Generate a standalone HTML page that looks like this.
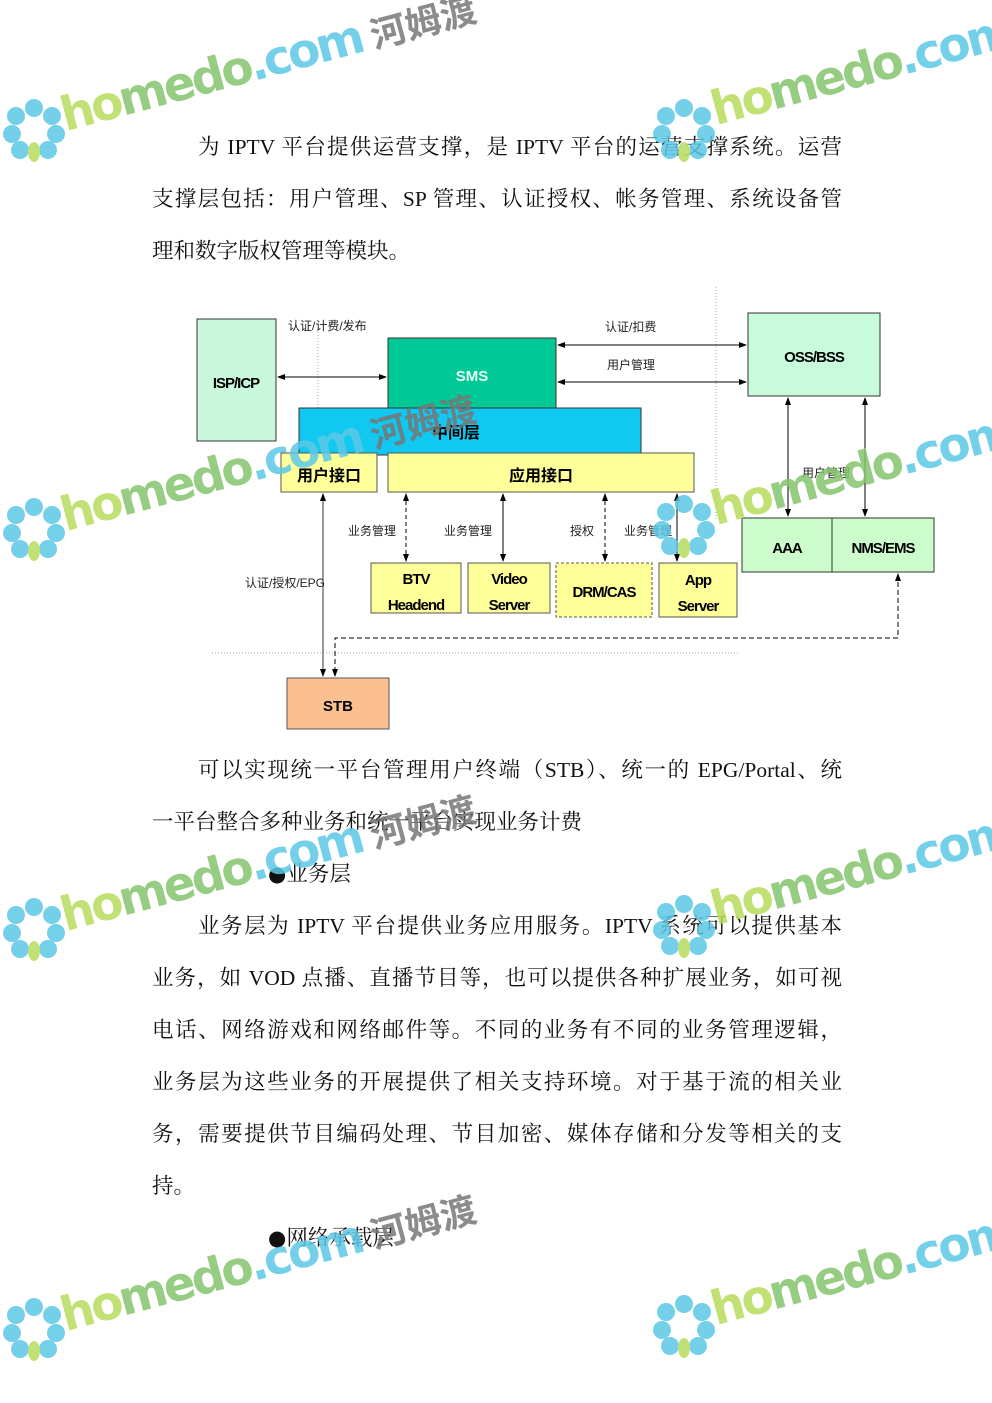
<!DOCTYPE html>
<html><head><meta charset="utf-8">
<style>
html,body{margin:0;padding:0;background:#fff;}
body{width:992px;height:1403px;position:relative;overflow:hidden;font-family:"Liberation Serif","Noto Serif CJK SC",serif;color:#111;}
.ln{position:absolute;left:152px;width:690px;font-size:21.5px;height:30px;line-height:30px;white-space:nowrap;}
.j{text-align:justify;text-align-last:justify;}
.bl{font-size:21px;font-family:"DejaVu Sans",sans-serif;}
.wm{position:absolute;transform:rotate(-15deg);transform-origin:0 100%;white-space:nowrap;font-family:"DejaVu Sans","Liberation Sans",sans-serif;font-size:47px;line-height:47px;letter-spacing:-3px;font-weight:bold;opacity:.85;pointer-events:none;}
.wm .g1{color:#b7dc5c}.wm .g2{color:#86c46e}.wm .b{color:#5cc8e6}.wm .c{color:#777;font-family:"Noto Sans CJK SC",sans-serif;font-weight:bold;font-size:36px;letter-spacing:0;margin-left:10px;}
.fl{position:absolute;width:64px;height:64px;opacity:.85;}
svg text{font-family:"Liberation Sans","Noto Sans CJK SC",sans-serif;}
</style></head><body>

<div class="ln j" style="top:132px;padding-left:46px;width:644px;">为 IPTV 平台提供运营支撑，是 IPTV 平台的运营支撑系统。运营</div>
<div class="ln j" style="top:184px;">支撑层包括：用户管理、SP 管理、认证授权、帐务管理、系统设备管</div>
<div class="ln" style="top:236px;">理和数字版权管理等模块。</div>

<svg style="position:absolute;left:0;top:0" width="992" height="760">
<defs>
<marker id="a" markerWidth="8" markerHeight="8" refX="7" refY="4" orient="auto-start-reverse" markerUnits="userSpaceOnUse"><path d="M0,1 L8,4 L0,7 z" fill="#000"/></marker>
</defs>
<line x1="716" y1="287" x2="716" y2="520" stroke="#aaa" stroke-dasharray="1,2"/>
<line x1="212" y1="653" x2="740" y2="653" stroke="#aaa" stroke-dasharray="1,2"/>
<line x1="318" y1="332" x2="318" y2="408" stroke="#aaa" stroke-dasharray="1,2"/>
<rect x="197" y="319" width="79" height="122" fill="#c8f7dc" stroke="#333"/>
<text x="236" y="388" font-size="15" font-weight="bold" text-anchor="middle" letter-spacing="-1">ISP/ICP</text>
<rect x="388" y="338" width="168" height="71" fill="#00c896" stroke="#333"/>
<text x="472" y="381" font-size="15" font-weight="bold" fill="#e8fff4" text-anchor="middle">SMS</text>
<rect x="299" y="408" width="342" height="47" fill="#10c8f0" stroke="#333"/>
<text x="456" y="438" font-size="16" font-weight="bold" text-anchor="middle">中间层</text>
<rect x="281" y="453" width="96" height="39" fill="#ffff99" stroke="#555"/>
<text x="329" y="481" font-size="16" font-weight="bold" text-anchor="middle">用户接口</text>
<rect x="388" y="453" width="306" height="39" fill="#ffff99" stroke="#555"/>
<text x="541" y="481" font-size="16" font-weight="bold" text-anchor="middle">应用接口</text>
<rect x="371" y="563" width="90" height="50" fill="#ffff99" stroke="#555"/>
<text x="416" y="584" font-size="15" font-weight="bold" text-anchor="middle" letter-spacing="-1">BTV</text>
<text x="416" y="610" font-size="15" font-weight="bold" text-anchor="middle" letter-spacing="-1">Headend</text>
<rect x="468" y="563" width="82" height="50" fill="#ffff99" stroke="#555"/>
<text x="509" y="584" font-size="15" font-weight="bold" text-anchor="middle" letter-spacing="-1">Video</text>
<text x="509" y="610" font-size="15" font-weight="bold" text-anchor="middle" letter-spacing="-1">Server</text>
<rect x="556" y="563" width="96" height="54" fill="#ffff99" stroke="#555" stroke-dasharray="3,2"/>
<text x="604" y="597" font-size="15" font-weight="bold" text-anchor="middle" letter-spacing="-1">DRM/CAS</text>
<rect x="659" y="563" width="78" height="54" fill="#ffff99" stroke="#555"/>
<text x="698" y="585" font-size="15" font-weight="bold" text-anchor="middle" letter-spacing="-1">App</text>
<text x="698" y="611" font-size="15" font-weight="bold" text-anchor="middle" letter-spacing="-1">Server</text>
<rect x="287" y="678" width="102" height="51" fill="#fac090" stroke="#555"/>
<text x="338" y="711" font-size="15" font-weight="bold" text-anchor="middle">STB</text>
<rect x="748" y="313" width="132" height="83" fill="#c8fadc" stroke="#333"/>
<text x="814" y="362" font-size="15" font-weight="bold" text-anchor="middle" letter-spacing="-1">OSS/BSS</text>
<rect x="742" y="518" width="192" height="54" fill="#ccfccc" stroke="#333"/>
<line x1="832" y1="518" x2="832" y2="572" stroke="#333"/>
<text x="787" y="553" font-size="15" font-weight="bold" text-anchor="middle" letter-spacing="-1">AAA</text>
<text x="883" y="553" font-size="15" font-weight="bold" text-anchor="middle" letter-spacing="-1">NMS/EMS</text>
<g stroke="#000" fill="none" stroke-width="1">
<line x1="278" y1="377" x2="386" y2="377" marker-start="url(#a)" marker-end="url(#a)"/>
<line x1="558" y1="345" x2="746" y2="345" marker-start="url(#a)" marker-end="url(#a)"/>
<line x1="558" y1="382" x2="746" y2="382" marker-start="url(#a)" marker-end="url(#a)"/>
<line x1="788" y1="398" x2="788" y2="516" marker-start="url(#a)" marker-end="url(#a)"/>
<line x1="865" y1="398" x2="865" y2="516" marker-start="url(#a)" marker-end="url(#a)"/>
<line x1="323" y1="494" x2="323" y2="676" marker-start="url(#a)" marker-end="url(#a)" stroke="#333"/>
<line x1="406" y1="494" x2="406" y2="561" marker-start="url(#a)" marker-end="url(#a)" stroke-dasharray="4,3"/>
<line x1="503" y1="494" x2="503" y2="561" marker-start="url(#a)" marker-end="url(#a)"/>
<line x1="605" y1="494" x2="605" y2="561" marker-start="url(#a)" marker-end="url(#a)" stroke-dasharray="4,3"/>
<line x1="677" y1="494" x2="677" y2="561" marker-start="url(#a)" marker-end="url(#a)"/>
<polyline points="898,574 898,638 335,638 335,676" stroke-dasharray="5,3" marker-start="url(#a)" marker-end="url(#a)"/>
</g>
<g font-size="12" fill="#222">
<text x="288" y="330">认证/计费/发布</text>
<text x="605" y="331">认证/扣费</text>
<text x="607" y="369">用户管理</text>
<text x="802" y="477">用户管理</text>
<text x="348" y="535">业务管理</text>
<text x="444" y="535">业务管理</text>
<text x="570" y="535">授权</text>
<text x="624" y="535">业务管理</text>
<text x="245" y="587">认证/授权/EPG</text>
</g>
</svg>

<div class="ln j" style="top:755px;padding-left:46px;width:644px;">可以实现统一平台管理用户终端（STB）、统一的 EPG/Portal、统</div>
<div class="ln" style="top:807px;">一平台整合多种业务和统一平台实现业务计费</div>
<div class="ln" style="top:859px;left:268px;"><span class="bl">●</span>业务层</div>
<div class="ln j" style="top:911px;padding-left:46px;width:644px;">业务层为 IPTV 平台提供业务应用服务。IPTV 系统可以提供基本</div>
<div class="ln j" style="top:963px;">业务，如 VOD 点播、直播节目等，也可以提供各种扩展业务，如可视</div>
<div class="ln j" style="top:1015px;">电话、网络游戏和网络邮件等。不同的业务有不同的业务管理逻辑，</div>
<div class="ln j" style="top:1067px;">业务层为这些业务的开展提供了相关支持环境。对于基于流的相关业</div>
<div class="ln j" style="top:1119px;">务，需要提供节目编码处理、节目加密、媒体存储和分发等相关的支</div>
<div class="ln" style="top:1171px;">持。</div>
<div class="ln" style="top:1223px;left:268px;"><span class="bl">●</span>网络承载层</div>

<!-- watermarks -->
<div class="wm" style="left:68px;top:92px;"><span class="g1">ho</span><span class="g2">medo</span><span class="b">.com</span><span class="c">河姆渡</span></div>
<div class="wm" style="left:718px;top:86px;"><span class="g1">ho</span><span class="g2">medo</span><span class="b">.com</span></div>
<div class="wm" style="left:68px;top:492px;"><span class="g1">ho</span><span class="g2">medo</span><span class="b">.com</span><span class="c">河姆渡</span></div>
<div class="wm" style="left:718px;top:486px;"><span class="g1">ho</span><span class="g2">medo</span><span class="b">.com</span></div>
<div class="wm" style="left:68px;top:892px;"><span class="g1">ho</span><span class="g2">medo</span><span class="b">.com</span><span class="c">河姆渡</span></div>
<div class="wm" style="left:718px;top:886px;"><span class="g1">ho</span><span class="g2">medo</span><span class="b">.com</span></div>
<div class="wm" style="left:68px;top:1292px;"><span class="g1">ho</span><span class="g2">medo</span><span class="b">.com</span><span class="c">河姆渡</span></div>
<div class="wm" style="left:718px;top:1286px;"><span class="g1">ho</span><span class="g2">medo</span><span class="b">.com</span></div>

<svg width="0" height="0" style="position:absolute"><defs>
<g id="fl"><g fill="#5cc8e6"><circle cx="32" cy="10" r="9"/><circle cx="50" cy="18" r="9"/><circle cx="54" cy="36" r="9"/><circle cx="14" cy="18" r="9"/><circle cx="10" cy="36" r="9"/><circle cx="18" cy="52" r="9"/><circle cx="46" cy="52" r="9"/></g><ellipse cx="32" cy="54" rx="6" ry="10" fill="#b7dc5c"/><circle cx="32" cy="33" r="3" fill="#fff"/></g>
</defs></svg>
<svg class="fl" style="left:2px;top:98px"><use href="#fl"/></svg>
<svg class="fl" style="left:652px;top:98px"><use href="#fl"/></svg>
<svg class="fl" style="left:2px;top:497px"><use href="#fl"/></svg>
<svg class="fl" style="left:652px;top:494px"><use href="#fl"/></svg>
<svg class="fl" style="left:2px;top:897px"><use href="#fl"/></svg>
<svg class="fl" style="left:652px;top:894px"><use href="#fl"/></svg>
<svg class="fl" style="left:2px;top:1297px"><use href="#fl"/></svg>
<svg class="fl" style="left:652px;top:1294px"><use href="#fl"/></svg>
</body></html>
